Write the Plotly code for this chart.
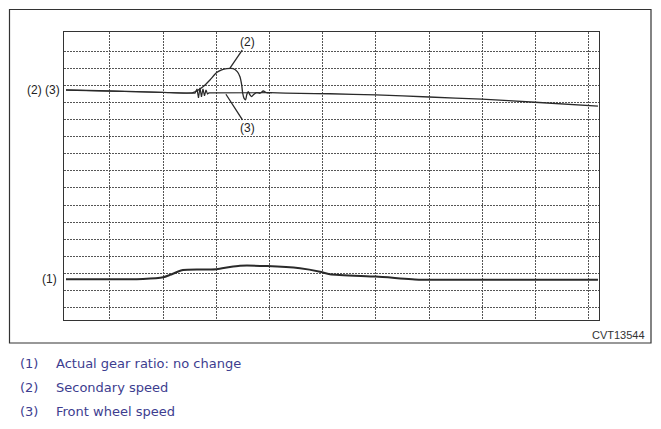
import plotly.graph_objects as go

# ---- data (x in grid divisions, y in grid divisions) ----
sec_x = [0.173, 1.0, 2.0, 2.56, 2.754, 2.88, 3.006, 3.10, 3.194, 3.318, 3.393, 3.444,
         3.476, 3.495, 3.519, 3.551, 3.570, 3.600, 3.632, 3.664, 3.707, 3.758, 3.820,
         3.882, 3.946, 4.008, 4.572, 5.136, 6.0, 7.0, 7.99, 8.99, 10.175]
sec_y = [12.75, 12.69, 12.61, 12.59, 12.95, 13.34, 13.77, 13.93, 14.00, 14.00, 13.83, 13.53,
         13.05, 12.56, 12.27, 12.17, 12.46, 12.65, 12.46, 12.36, 12.50, 12.59, 12.56,
         12.69, 12.59, 12.59, 12.55, 12.53, 12.46, 12.34, 12.21, 12.03, 11.80]

front_x = [0.173, 1.0, 2.0, 2.598, 2.636, 2.664, 2.692, 2.720, 2.748, 2.777, 2.805,
           2.833, 2.861, 3.444, 4.046]
front_y = [12.75, 12.69, 12.61, 12.56, 12.81, 12.28, 12.87, 12.34, 12.81, 12.40, 12.75,
           12.52, 12.58, 12.58, 12.59]

gear_x = [0.173, 1.0, 1.62, 2.0, 2.128, 2.26, 2.372, 2.692, 3.006, 3.256, 3.444, 3.952,
          4.572, 4.948, 5.136, 6.0, 6.828, 7.0, 10.175]
gear_y = [1.64, 1.64, 1.66, 1.76, 1.90, 2.07, 2.19, 2.22, 2.23, 2.37, 2.44, 2.42,
          2.29, 2.09, 1.94, 1.80, 1.62, 1.62, 1.62]

x_grid = [1, 2, 3, 4, 5, 6, 7, 8, 9, 10]
y_grid = list(range(16))

legend_nums = ["(1)", "(2)", "(3)"]
legend_texts = ["Actual gear ratio: no change", "Secondary speed", "Front wheel speed"]

# page has an 8px body margin; the figure is sized to fit inside the window
OFF = 8
W, H = 661 - 2 * OFF, 429 - 2 * OFF
LINE = "#2a2a2a"

fig = go.Figure()
fig.add_trace(go.Scatter(x=sec_x, y=sec_y, mode="lines",
                         line=dict(color=LINE, width=1.3, shape="spline", smoothing=0.5),
                         hoverinfo="skip", showlegend=False))
fig.add_trace(go.Scatter(x=front_x, y=front_y, mode="lines",
                         line=dict(color=LINE, width=1.2),
                         hoverinfo="skip", showlegend=False))
fig.add_trace(go.Scatter(x=gear_x, y=gear_y, mode="lines",
                         line=dict(color=LINE, width=2, shape="spline", smoothing=0.6),
                         hoverinfo="skip", showlegend=False))

def px(v):
    return (v - OFF) / W

def py(v):
    return 1 - (v - OFF) / H

fig.update_layout(
    width=W, height=H,
    margin=dict(l=0, r=0, t=0, b=0),
    paper_bgcolor="white", plot_bgcolor="white",
    xaxis=dict(domain=[px(64.3), px(599.3)], range=[0.141, 10.2],
               tickvals=x_grid, showticklabels=False, ticks="",
               showgrid=True, gridcolor="#555555", gridwidth=1, griddash="2px,1px",
               zeroline=False, showline=True, linecolor="#333333", linewidth=1, mirror=True,
               fixedrange=True),
    yaxis=dict(domain=[py(320), py(31.7)], range=[-0.745, 16.17],
               tickvals=y_grid, showticklabels=False, ticks="",
               showgrid=True, gridcolor="#555555", gridwidth=1, griddash="2px,1px",
               zeroline=False, showline=True, linecolor="#333333", linewidth=1, mirror=True,
               fixedrange=True),
)

# outer frame
fig.add_shape(type="rect", xref="paper", yref="paper",
              x0=px(9.5), x1=px(651), y0=py(343), y1=py(9.5),
              line=dict(color="#333333", width=1.2), fillcolor="rgba(0,0,0,0)", layer="below")

lab_font = dict(family="Liberation Sans, Arial, sans-serif", size=12, color="#222222")

# left labels
fig.add_annotation(text="(2) (3)", xref="paper", yref="y", x=px(61.5), y=sec_y[0],
                   xanchor="right", yanchor="middle", showarrow=False, font=lab_font)
fig.add_annotation(text="(1)", xref="paper", yref="y", x=px(58.5), y=gear_y[0],
                   xanchor="right", yanchor="middle", showarrow=False, font=lab_font)

# callouts
fig.add_annotation(text="(2)", x=3.256, y=14.03, ax=3.594, ay=15.59, axref="x", ayref="y",
                   showarrow=True, arrowhead=0, arrowwidth=1.3, arrowcolor=LINE, font=lab_font)
fig.add_annotation(text="(3)", x=3.18, y=12.5, ax=3.594, ay=10.50, axref="x", ayref="y",
                   showarrow=True, arrowhead=0, arrowwidth=1.3, arrowcolor=LINE, font=lab_font)

fig.add_annotation(text="CVT13544", xref="paper", yref="paper", x=px(647), y=py(335),
                   xanchor="right", yanchor="middle", showarrow=False,
                   font=dict(family="Liberation Sans, Arial, sans-serif", size=11, color="#333333"))

leg_font = dict(family="DejaVu Sans, Verdana, sans-serif", size=13, color="#3d3d8f")
for i, (n, t) in enumerate(zip(legend_nums, legend_texts)):
    yy = py([363.3, 387.0, 411.7][i])
    fig.add_annotation(text=n, xref="paper", yref="paper", x=px(18), y=yy,
                       xanchor="left", yanchor="middle", showarrow=False, font=leg_font)
    fig.add_annotation(text=t, xref="paper", yref="paper", x=px(53.5), y=yy,
                       xanchor="left", yanchor="middle", showarrow=False, font=leg_font)

fig.write_html("out.html", config=dict(displayModeBar=False))
